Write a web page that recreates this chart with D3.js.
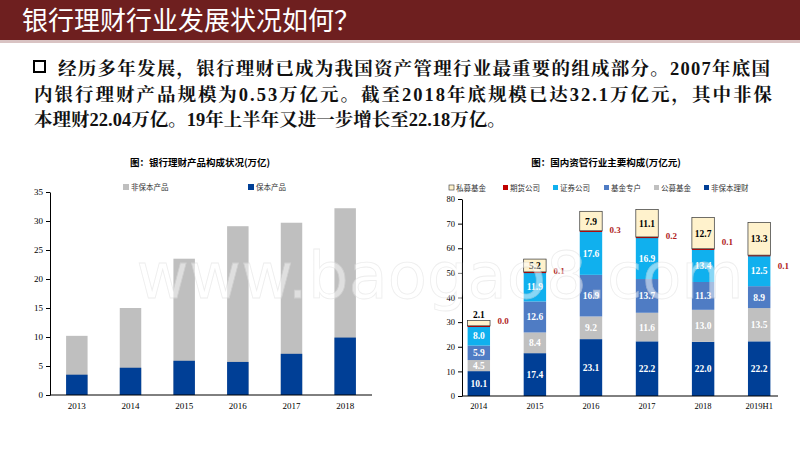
<!DOCTYPE html>
<html><head><meta charset="utf-8">
<script src="https://cdn.jsdelivr.net/npm/d3@7"></script>
<style>body{margin:0;background:#fff}svg{display:block}</style>
</head><body>
<svg id="c" width="800" height="450"></svg>
<script>
// Left chart data
const years1 = ["2013","2014","2015","2016","2017","2018"];
const protectedVals = [3.5, 4.7, 5.9, 5.7, 7.1, 9.9];
const totalVals = [10.2, 15.0, 23.5, 29.1, 29.7, 32.2];
const ticks1 = [0,5,10,15,20,25,30,35];
// Right chart data
const years2 = ["2014","2015","2016","2017","2018","2019H1"];
const seriesNames = ["非保本理财","公募基金","基金专户","证券公司","期货公司","私募基金"];
const nonProt = [10.1, 17.4, 23.1, 22.2, 22.0, 22.2];
const publicFund = [4.5, 8.4, 9.2, 11.6, 13.0, 13.5];
const fundAcct = [5.9, 12.6, 16.9, 13.7, 11.3, 8.9];
const securities = [8.0, 11.9, 17.6, 16.9, 13.4, 12.5];
const futures = [0.0, 0.1, 0.3, 0.2, 0.1, 0.1];
const privateFund = [2.1, 5.2, 7.9, 11.1, 12.7, 13.3];
const ticks2 = [0,10,20,30,40,50,60,70,80];

const svg = d3.select("#c");
const serif = "'Liberation Serif','Noto Serif CJK SC','Noto Sans CJK SC',serif";
svg.append("rect").attr("x",0).attr("y",0).attr("width",800).attr("height",40).attr("fill","#6e1f1f");
svg.append("text").attr("x",22).attr("y",30).attr("fill","#fff").attr("font-size",26)
  .attr("font-family","'Noto Sans CJK SC',sans-serif").text("银行理财行业发展状况如何？");
svg.append("rect").attr("x",0).attr("y",40).attr("width",800).attr("height",3).attr("fill","#d9c3c3");
svg.append("rect").attr("x",34).attr("y",61).attr("width",11).attr("height",11).attr("fill","none").attr("stroke","#000").attr("stroke-width",2);
const lines = ["经历多年发展，银行理财已成为我国资产管理行业最重要的组成部分。2007年底国",
  "内银行理财产品规模为0.53万亿元。截至2018年底规模已达32.1万亿元，其中非保",
  "本理财22.04万亿。19年上半年又进一步增长至22.18万亿。"];
lines.forEach((t,i)=>svg.append("text").attr("x",i==0?58:34).attr("y",75+i*25.5).attr("font-size",18.5)
  .attr("font-weight","bold").attr("font-family",serif).attr("fill","#111").attr("textLength",i<2?(i==0?712:738):null).text(t));

const x1 = d3.scaleBand().domain(years1).range([50,372]).paddingInner(0.6).paddingOuter(0.3);
const y1 = d3.scaleLinear().domain([0,35]).range([395,192]);
const g1 = svg.append("g");
g1.selectAll(".t").data(years1).join("rect").attr("x",d=>x1(d)).attr("width",x1.bandwidth())
  .attr("y",(d,i)=>y1(totalVals[i])).attr("height",(d,i)=>y1(0)-y1(totalVals[i])).attr("fill","#bfbfbf");
g1.selectAll(".p").data(years1).join("rect").attr("x",d=>x1(d)).attr("width",x1.bandwidth())
  .attr("y",(d,i)=>y1(protectedVals[i])).attr("height",(d,i)=>y1(0)-y1(protectedVals[i])).attr("fill","#003f96");
const ax1 = g1.append("g").attr("transform","translate(50,0)").call(d3.axisLeft(y1).tickValues(ticks1).tickSize(4).tickSizeOuter(0));
const bx1 = g1.append("g").attr("transform","translate(0,395)").call(d3.axisBottom(x1).tickSize(0).tickSizeOuter(0));
bx1.select(".domain").attr("d","M50,0H372");
[ax1,bx1].forEach(a=>a.selectAll("text").attr("font-family",serif).attr("font-size",9).attr("fill","#000"));
bx1.selectAll("text").attr("dy","1.2em");
svg.append("text").attr("x",200).attr("y",166).attr("text-anchor","middle").attr("font-size",9.5).attr("font-weight","bold")
  .attr("font-family","'Noto Sans CJK SC',sans-serif").text("图：银行理财产品构成状况(万亿)");
[["非保本产品","#bfbfbf",123],["保本产品","#003f96",248]].forEach(([n,c,x])=>{
  svg.append("rect").attr("x",x).attr("y",184).attr("width",6).attr("height",6).attr("fill",c);
  svg.append("text").attr("x",x+8).attr("y",190).attr("font-size",7.5).attr("fill","#333").attr("font-family","'Noto Sans CJK SC',sans-serif").text(n);
});

const x2 = d3.scaleBand().domain(years2).range([462,776]).paddingInner(0.6).paddingOuter(0.1);
const y2 = d3.scaleLinear().domain([0,80]).range([396,199]);
const data2 = years2.map((y,i)=>({year:y,"非保本理财":nonProt[i],"公募基金":publicFund[i],"基金专户":fundAcct[i],"证券公司":securities[i],"期货公司":futures[i],"私募基金":privateFund[i]}));
const stack = d3.stack().keys(seriesNames)(data2);
const colors = {"非保本理财":"#003f96","公募基金":"#c0c0c0","基金专户":"#4f7cc4","证券公司":"#10b0ee","期货公司":"#c00000","私募基金":"#fff2cc"};
const g2 = svg.append("g");
stack.forEach(s=>{
  const k=s.key;
  g2.selectAll(null).data(s).join("rect").attr("x",d=>x2(d.data.year)).attr("width",x2.bandwidth())
    .attr("y",d=>y2(d[1])).attr("height",d=>Math.max(k=="期货公司"?1.2:0,y2(d[0])-y2(d[1])))
    .attr("fill",colors[k]).attr("stroke",k=="私募基金"?"#333":"none").attr("stroke-width",0.7);
  if(k!="期货公司"){
    g2.selectAll(null).data(s).join("text").attr("x",d=>x2(d.data.year)+x2.bandwidth()/2)
      .attr("y",d=> (k=="私募基金"&&d.data.year=="2014") ? y2(d[1])-3 : (y2(d[0])+y2(d[1]))/2+3.5)
      .attr("text-anchor","middle").attr("font-size",9.5).attr("font-weight","bold").attr("font-family",serif)
      .attr("fill",k=="私募基金"?"#000":"#fff").text(d=>d.data[k].toFixed(1));
  } else {
    g2.selectAll(null).data(s).join("text").attr("x",d=>x2(d.data.year)+x2.bandwidth()+13)
      .attr("y",d=>y2(d[1])+ (d.data.year=="2014"?-2:d.data.year=="2019H1"?14:(d.data.year=="2018"?-4:2)))
      .attr("text-anchor","middle").attr("font-size",9).attr("font-weight","bold").attr("font-family",serif)
      .attr("fill","#b01c1c").text(d=>d.data[k].toFixed(1));
  }
});
const ax2 = g2.append("g").attr("transform","translate(462,0)").call(d3.axisLeft(y2).tickValues(ticks2).tickSize(4).tickSizeOuter(0));
const bx2 = g2.append("g").attr("transform","translate(0,396)").call(d3.axisBottom(x2).tickSize(0).tickSizeOuter(0));
bx2.select(".domain").attr("d","M462,0H778");
[ax2,bx2].forEach(a=>a.selectAll("text").attr("font-family",serif).attr("font-size",8.5).attr("fill","#000"));
bx2.selectAll("text").attr("dy","1.2em");
svg.append("text").attr("x",606).attr("y",166).attr("text-anchor","middle").attr("font-size",9.5).attr("font-weight","bold")
  .attr("font-family","'Noto Sans CJK SC',sans-serif").text("图：国内资管行业主要构成(万亿元)");
const legOrder = ["私募基金","期货公司","证券公司","基金专户","公募基金","非保本理财"];
const legX = [449,503,553,604,654,704];
legOrder.forEach((n,i)=>{
  svg.append("rect").attr("x",legX[i]).attr("y",185).attr("width",5).attr("height",5).attr("fill",colors[n]).attr("stroke",n=="私募基金"?"#333":"none").attr("stroke-width",0.6);
  svg.append("text").attr("x",legX[i]+7).attr("y",191).attr("font-size",7.5).attr("fill","#333").attr("font-family","'Noto Sans CJK SC',sans-serif").text(n);
});
svg.append("text").attr("x",440).attr("y",298).attr("text-anchor","middle").attr("font-size",64).attr("font-family","'DejaVu Sans',sans-serif")
  .attr("fill","#fff").attr("opacity",0.5).attr("stroke","#ddd").attr("stroke-width",0.8).text("www.baogao8.com");
</script>
</body></html>
